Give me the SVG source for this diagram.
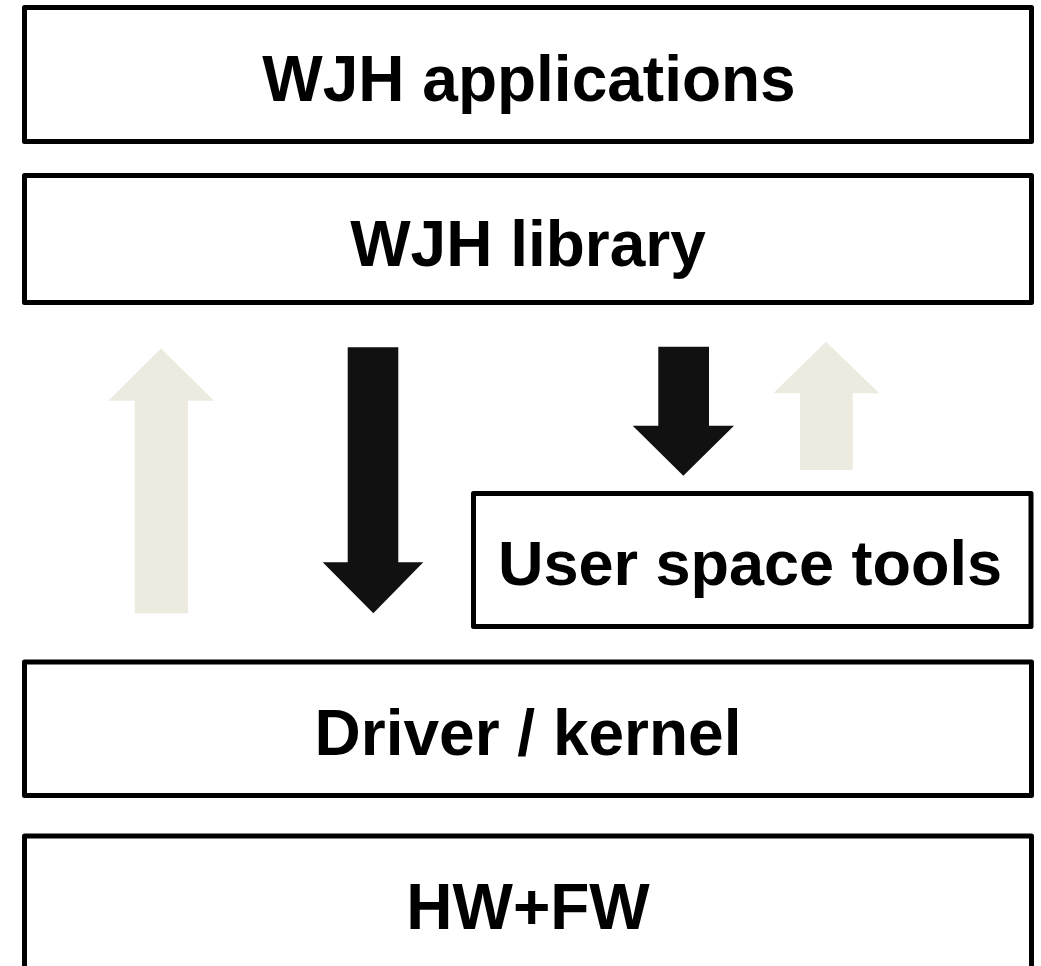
<svg xmlns="http://www.w3.org/2000/svg" width="1041" height="966" viewBox="0 0 1041 966">
<style>
.box{fill:#fff;stroke:#000;stroke-width:5;stroke-linejoin:round}
.lbl{font-family:"Liberation Sans",Arial,sans-serif;font-weight:bold;font-size:64px;fill:#000;text-anchor:middle}
.dn{fill:#111}
.up{fill:#EDEBE0}
</style>
<rect width="1041" height="966" fill="#fff"/>
<g id="connectors">
<polygon class="up" points="161,348.5 214,400.7 188,400.7 188,613.3 134.7,613.3 134.7,400.7 108.3,400.7"/>
<polygon class="dn" points="347.7,347.3 398.3,347.3 398.3,562.3 423.3,562.3 373.3,613.3 322.7,562.3 347.7,562.3"/>
<polygon class="dn" points="658.3,346.7 709,346.7 709,425.7 734,425.7 683.3,475.7 632.7,425.7 658.3,425.7"/>
<polygon class="up" points="826,341.7 879.3,393.3 852.7,393.3 852.7,470 800,470 800,393.3 773.3,393.3"/>
</g>
<g id="apps">
<rect class="box" x="24.5" y="7.5" width="1007" height="134"/>
<text class="lbl" x="529" y="100.5">WJH applications</text>
</g>
<g id="library">
<rect class="box" x="24.5" y="175.5" width="1007" height="127"/>
<text class="lbl" x="528" y="265.5">WJH library</text>
</g>
<g id="tools">
<rect class="box" x="473.5" y="493.5" width="557.5" height="133"/>
<text class="lbl" x="750" y="585" style="font-size:63px">User space tools</text>
</g>
<g id="driver">
<rect class="box" x="24.5" y="662" width="1007" height="133.5"/>
<text class="lbl" x="528" y="755">Driver / kernel</text>
</g>
<g id="hwfw">
<rect class="box" x="24.5" y="836" width="1007" height="134"/>
<text class="lbl" x="528" y="929">HW+FW</text>
</g>
</svg>
